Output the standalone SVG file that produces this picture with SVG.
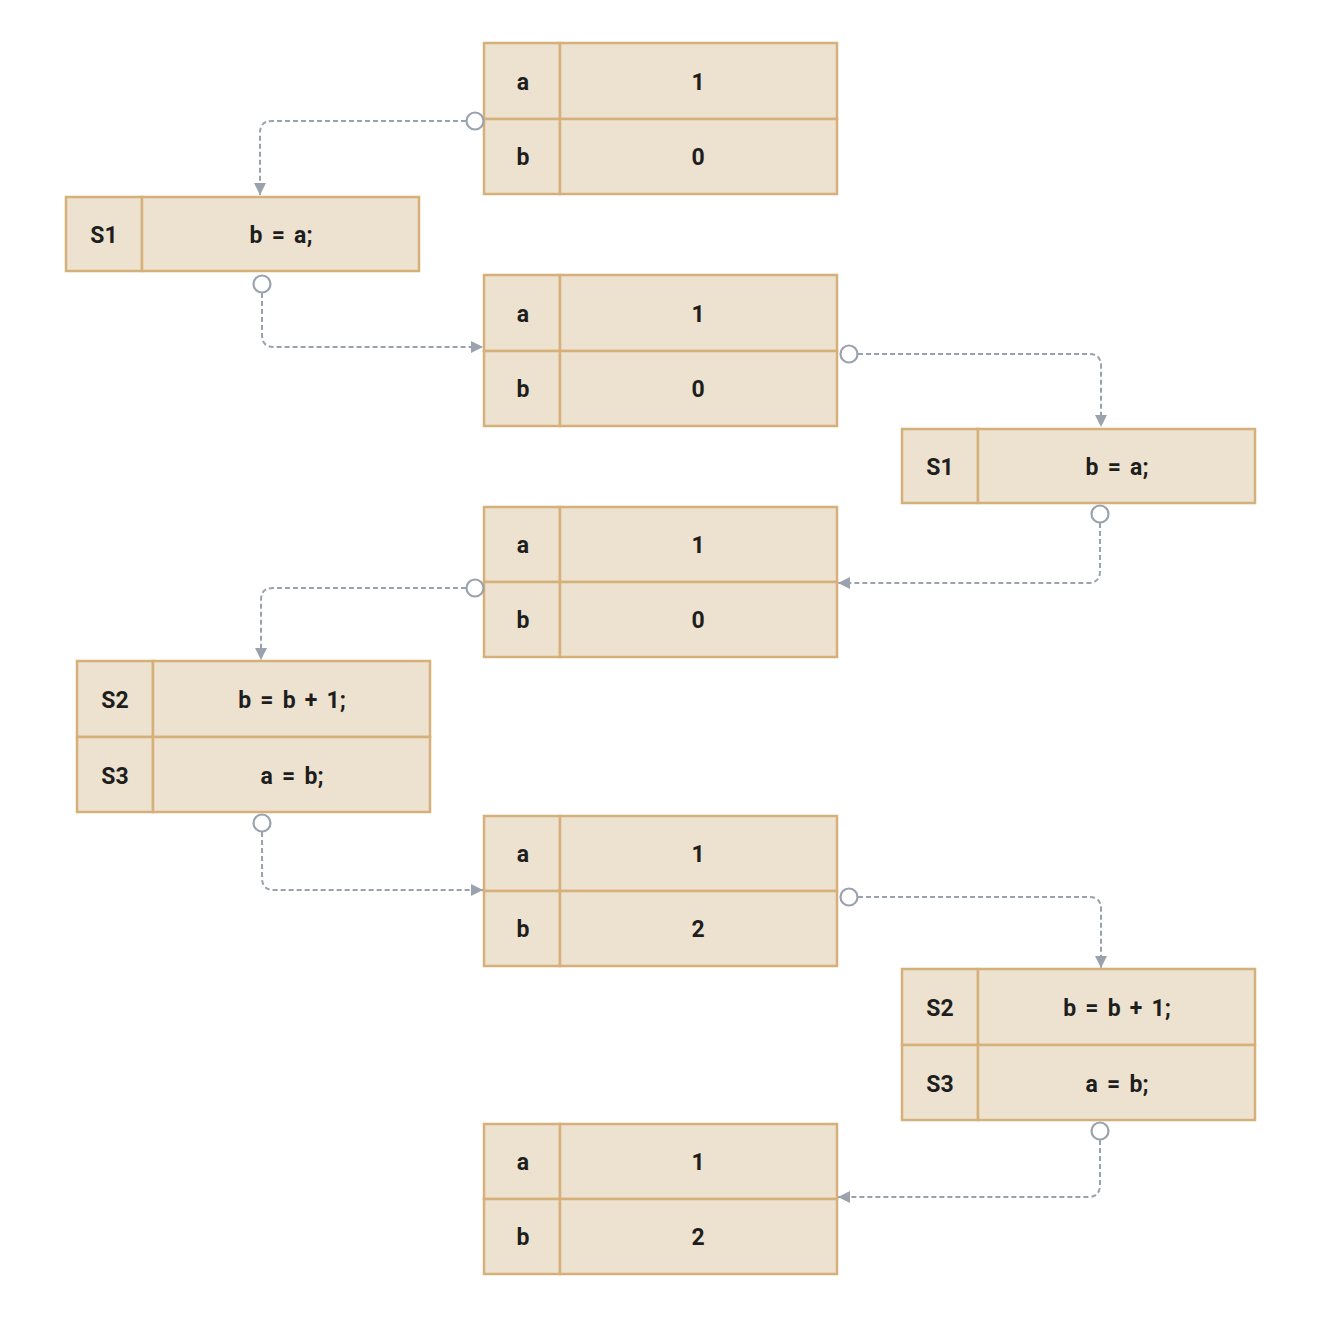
<svg xmlns="http://www.w3.org/2000/svg" width="1334" height="1322" viewBox="0 0 1334 1322">
<defs>
<style>
.cell{fill:#ede2cf;stroke:#d5b07a;stroke-width:2.5}
.t{font-family:Roboto,"Liberation Sans",sans-serif;font-weight:bold;font-size:23px;fill:#1e1e1e;text-anchor:middle}
.code{word-spacing:3.5px}
.c{fill:none;stroke:#9aa3ad;stroke-width:2;stroke-dasharray:5,3}
.dot{fill:#ffffff;stroke:#9aa3ad;stroke-width:2.2}
</style>
<marker id="arr" markerWidth="12" markerHeight="12" refX="10" refY="5" orient="auto" markerUnits="userSpaceOnUse" viewBox="0 0 10 10">
<path d="M0,0 L10,5 L0,10 Z" fill="#9aa3ad"/>
</marker>
</defs>
<rect width="1334" height="1322" fill="#ffffff"/>

<g id="state1">
<rect class="cell" x="484" y="43" width="76" height="76"/>
<rect class="cell" x="560" y="43" width="277" height="76"/>
<rect class="cell" x="484" y="119" width="76" height="75"/>
<rect class="cell" x="560" y="119" width="277" height="75"/>
<text class="t" x="523" y="90">a</text><text class="t" x="698" y="90">1</text>
<text class="t" x="523" y="165">b</text><text class="t" x="698" y="165">0</text>
</g>

<g id="stmt1">
<rect class="cell" x="66" y="197" width="76" height="74"/>
<rect class="cell" x="142" y="197" width="277" height="74"/>
<text class="t" x="104" y="243">S1</text><text class="t code" x="281" y="243">b = a;</text>
</g>

<g id="state2">
<rect class="cell" x="484" y="275" width="76" height="76"/>
<rect class="cell" x="560" y="275" width="277" height="76"/>
<rect class="cell" x="484" y="351" width="76" height="75"/>
<rect class="cell" x="560" y="351" width="277" height="75"/>
<text class="t" x="523" y="322">a</text><text class="t" x="698" y="322">1</text>
<text class="t" x="523" y="397">b</text><text class="t" x="698" y="397">0</text>
</g>

<g id="stmt2">
<rect class="cell" x="902" y="429" width="76" height="74"/>
<rect class="cell" x="978" y="429" width="277" height="74"/>
<text class="t" x="940" y="475">S1</text><text class="t code" x="1117" y="475">b = a;</text>
</g>

<g id="state3">
<rect class="cell" x="484" y="507" width="76" height="75"/>
<rect class="cell" x="560" y="507" width="277" height="75"/>
<rect class="cell" x="484" y="582" width="76" height="75"/>
<rect class="cell" x="560" y="582" width="277" height="75"/>
<text class="t" x="523" y="553">a</text><text class="t" x="698" y="553">1</text>
<text class="t" x="523" y="628">b</text><text class="t" x="698" y="628">0</text>
</g>

<g id="stmt3">
<rect class="cell" x="77" y="661" width="76" height="76"/>
<rect class="cell" x="153" y="661" width="277" height="76"/>
<rect class="cell" x="77" y="737" width="76" height="75"/>
<rect class="cell" x="153" y="737" width="277" height="75"/>
<text class="t" x="115" y="708">S2</text><text class="t code" x="292" y="708">b = b + 1;</text>
<text class="t" x="115" y="784">S3</text><text class="t code" x="292" y="784">a = b;</text>
</g>

<g id="state4">
<rect class="cell" x="484" y="816" width="76" height="75"/>
<rect class="cell" x="560" y="816" width="277" height="75"/>
<rect class="cell" x="484" y="891" width="76" height="75"/>
<rect class="cell" x="560" y="891" width="277" height="75"/>
<text class="t" x="523" y="862">a</text><text class="t" x="698" y="862">1</text>
<text class="t" x="523" y="937">b</text><text class="t" x="698" y="937">2</text>
</g>

<g id="stmt4">
<rect class="cell" x="902" y="969" width="76" height="76"/>
<rect class="cell" x="978" y="969" width="277" height="76"/>
<rect class="cell" x="902" y="1045" width="76" height="75"/>
<rect class="cell" x="978" y="1045" width="277" height="75"/>
<text class="t" x="940" y="1016">S2</text><text class="t code" x="1117" y="1016">b = b + 1;</text>
<text class="t" x="940" y="1092">S3</text><text class="t code" x="1117" y="1092">a = b;</text>
</g>

<g id="state5">
<rect class="cell" x="484" y="1124" width="76" height="75"/>
<rect class="cell" x="560" y="1124" width="277" height="75"/>
<rect class="cell" x="484" y="1199" width="76" height="75"/>
<rect class="cell" x="560" y="1199" width="277" height="75"/>
<text class="t" x="523" y="1170">a</text><text class="t" x="698" y="1170">1</text>
<text class="t" x="523" y="1245">b</text><text class="t" x="698" y="1245">2</text>
</g>

<g id="connectors">
<path class="c" marker-end="url(#arr)" d="M466 121 H272 Q260 121 260 133 V195"/>
<path class="c" marker-end="url(#arr)" d="M262 293 V335 Q262 347 274 347 H483"/>
<path class="c" marker-end="url(#arr)" d="M858 354 H1089 Q1101 354 1101 366 V427"/>
<path class="c" marker-end="url(#arr)" d="M1100 523 V571 Q1100 583 1088 583 H838"/>
<path class="c" marker-end="url(#arr)" d="M466 588 H273 Q261 588 261 600 V660"/>
<path class="c" marker-end="url(#arr)" d="M262 832 V878 Q262 890 274 890 H483"/>
<path class="c" marker-end="url(#arr)" d="M858 897 H1089 Q1101 897 1101 909 V968"/>
<path class="c" marker-end="url(#arr)" d="M1100 1140 V1185 Q1100 1197 1088 1197 H838"/>
<circle class="dot" cx="475" cy="121" r="8.5"/>
<circle class="dot" cx="262" cy="284" r="8.5"/>
<circle class="dot" cx="849" cy="354" r="8.5"/>
<circle class="dot" cx="1100" cy="514" r="8.5"/>
<circle class="dot" cx="475" cy="588" r="8.5"/>
<circle class="dot" cx="262" cy="823" r="8.5"/>
<circle class="dot" cx="849" cy="897" r="8.5"/>
<circle class="dot" cx="1100" cy="1131" r="8.5"/>
</g>
</svg>
